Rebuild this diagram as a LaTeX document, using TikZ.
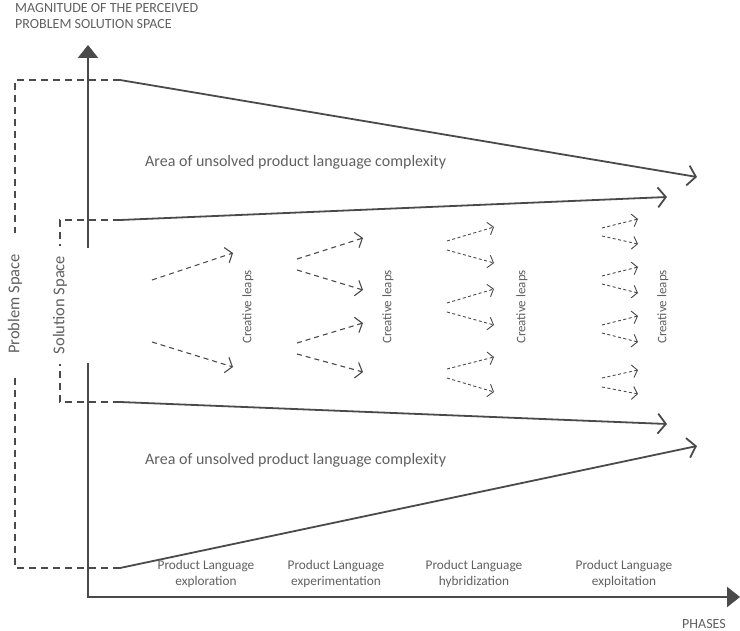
\documentclass[tikz,border=0pt]{standalone}
\usepackage{fontspec}
\setmainfont{Carlito}
\usetikzlibrary{arrows.meta}
\definecolor{ink}{HTML}{4A4A4A}
\definecolor{txt}{HTML}{606060}

\begin{document}
\begin{tikzpicture}[x=1pt,y=-1pt,
  axisline/.style={draw=ink, line width=2.6pt, line join=miter},
  axistip/.style={-{Triangle[length=13pt,width=20pt]}},
  bound/.style={draw=ink, line width=1.8pt,
    -{Straight Barb[length=8pt,width=20pt,line width=1.8pt]}},
  bracket/.style={draw=ink, line width=1.6pt, dash pattern=on 7pt off 5pt},
  leap/.style={draw=ink, line width=1.1pt, dash pattern=on 5pt off 4pt,
    -{Straight Barb[length=6pt,width=16pt,line width=1.1pt]}},
  smallleap/.style={draw=ink, line width=0.9pt, dash pattern=on 3pt off 2.5pt,
    -{Straight Barb[length=5pt,width=13pt,line width=0.9pt]}},
  lbl/.style={text=txt, inner sep=0pt},
  caps/.style={lbl, font=\fontsize{14}{16}\selectfont, align=left},
  area/.style={lbl, font=\fontsize{16}{19}\selectfont},
  side/.style={lbl, font=\fontsize{16.5}{19}\selectfont, rotate=90},
  leaplbl/.style={lbl, font=\fontsize{13}{15}\selectfont, rotate=90},
  phase/.style={lbl, font=\fontsize{13.3}{16}\selectfont, align=center}
]
\path[use as bounding box] (0,0) rectangle (740,631);

% axes
\coordinate (O) at (88,597);
\coordinate (ytop) at (88,45);
\coordinate (xend) at (740,597);
\coordinate (gaplo) at (88,363);
\coordinate (gaphi) at (88,248);
\draw[axisline, axistip] (gaplo) -- (O) -- (xend);
\draw[axisline, axistip] (gaphi) -- (ytop);

\node[caps, anchor=north west] (ylabel) at (15,3)
  {MAGNITUDE OF THE PERCEIVED\\PROBLEM SOLUTION SPACE};
\node[caps, anchor=east] (xlabel) at (726,624) {PHASES};

% problem space bracket and its boundaries
\coordinate (p1) at (120,80);
\coordinate (p2) at (120,568);
\coordinate (p1e) at (697,177);
\coordinate (p2e) at (697,446);
\coordinate (pl1) at (15,80);
\coordinate (pl2) at (15,568);
\coordinate (pg1) at (15,233);
\coordinate (pg2) at (15,375);
\node[side] (prob) at (15,304) {Problem Space};
\draw[bracket] (p1) -- (pl1) -- (pg1);
\draw[bracket] (p2) -- (pl2) -- (pg2);
\draw[bound] (p1) -- (p1e);
\draw[bound] (p2) -- (p2e);

% solution space bracket and its boundaries
\coordinate (s1) at (120,220);
\coordinate (s2) at (120,402);
\coordinate (s1e) at (667,197);
\coordinate (s2e) at (667,424);
\coordinate (sl1) at (60,220);
\coordinate (sl2) at (60,402);
\coordinate (sg1) at (60,246);
\coordinate (sg2) at (60,364);
\node[side] (sol) at (60,305) {Solution Space};
\draw[bracket] (s1) -- (sl1) -- (sg1);
\draw[bracket] (s2) -- (sl2) -- (sg2);
\draw[bound] (s1) -- (s1e);
\draw[bound] (s2) -- (s2e);

\node[area, anchor=west] (areatop) at (145,162)
  {Area of unsolved product language complexity};
\node[area, anchor=west] (areabot) at (145,460)
  {Area of unsolved product language complexity};

% creative leaps, phase 1
\foreach \a/\b [count=\i] in {280/253, 342/367}{
  \coordinate (ga\i) at (152,\a); \coordinate (gb\i) at (233,\b);
  \draw[leap] (ga\i) -- (gb\i);
}
% phase 2
\foreach \a/\b [count=\i] in {259/238, 270/290, 343/323, 354/372}{
  \coordinate (ha\i) at (297,\a); \coordinate (hb\i) at (363,\b);
  \draw[leap] (ha\i) -- (hb\i);
}
% phase 3
\foreach \a/\b [count=\i] in {241/227, 250/263, 303/289, 312/325, 369/357, 378/392}{
  \coordinate (ia\i) at (447,\a); \coordinate (ib\i) at (494,\b);
  \draw[smallleap] (ia\i) -- (ib\i);
}
% phase 4
\foreach \a/\b [count=\i] in {228/219, 236/244, 276/267, 284/293,
                              325/316, 333/342, 378/370, 387/394}{
  \coordinate (ja\i) at (602,\a); \coordinate (jb\i) at (638,\b);
  \draw[smallleap] (ja\i) -- (jb\i);
}
\node[leaplbl] (cl1) at (248,307) {Creative leaps};
\node[leaplbl] (cl2) at (388,307) {Creative leaps};
\node[leaplbl] (cl3) at (522,307) {Creative leaps};
\node[leaplbl] (cl4) at (663,307) {Creative leaps};

% phases along the horizontal axis
\node[phase] (ph1) at (206,574) {Product Language\\exploration};
\node[phase] (ph2) at (336,574) {Product Language\\experimentation};
\node[phase] (ph3) at (474,574) {Product Language\\hybridization};
\node[phase] (ph4) at (624,574) {Product Language\\exploitation};
\end{tikzpicture}
\end{document}
